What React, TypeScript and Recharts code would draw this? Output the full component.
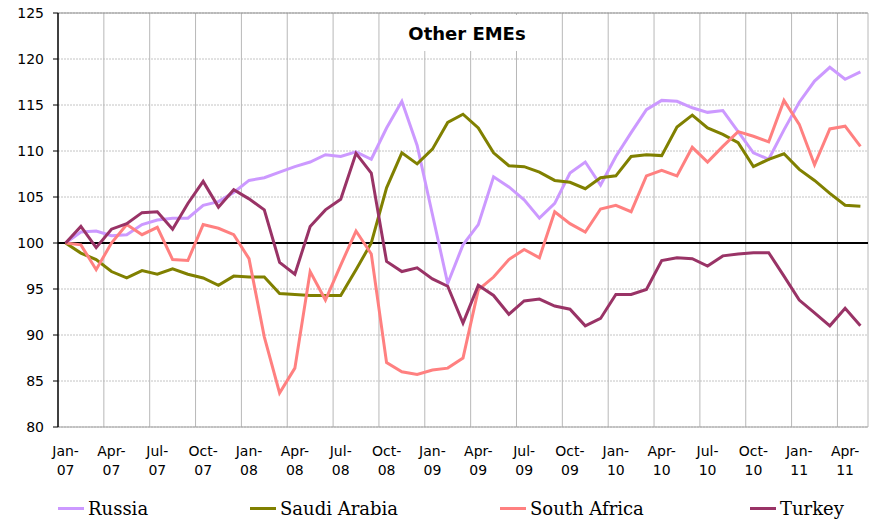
import React from "react";
import {
  LineChart, Line, XAxis, YAxis, CartesianGrid, ReferenceLine, Legend,
} from "recharts";

const MONTHS = [
  "Jan-07", "Feb-07", "Mar-07", "Apr-07", "May-07", "Jun-07", "Jul-07", "Aug-07", "Sep-07", "Oct-07", "Nov-07", "Dec-07",
  "Jan-08", "Feb-08", "Mar-08", "Apr-08", "May-08", "Jun-08", "Jul-08", "Aug-08", "Sep-08", "Oct-08", "Nov-08", "Dec-08",
  "Jan-09", "Feb-09", "Mar-09", "Apr-09", "May-09", "Jun-09", "Jul-09", "Aug-09", "Sep-09", "Oct-09", "Nov-09", "Dec-09",
  "Jan-10", "Feb-10", "Mar-10", "Apr-10", "May-10", "Jun-10", "Jul-10", "Aug-10", "Sep-10", "Oct-10", "Nov-10", "Dec-10",
  "Jan-11", "Feb-11", "Mar-11", "Apr-11", "May-11",
];

const RUSSIA = [
  100, 101.2, 101.3, 100.8, 100.9, 102.0, 102.5, 102.7, 102.7, 104.1, 104.5, 105.5,
  106.8, 107.1, 107.7, 108.3, 108.8, 109.6, 109.4, 109.9, 109.1, 112.5, 115.4, 110.6,
  103.1, 95.6, 99.8, 102.0, 107.2, 106.1, 104.7, 102.7, 104.3, 107.6, 108.8, 106.3,
  109.4, 112.0, 114.5, 115.5, 115.4, 114.7, 114.2, 114.4, 112.1, 109.8, 109.1, 112.3,
  115.3, 117.6, 119.1, 117.8, 118.6,
];

const SAUDI_ARABIA = [
  100, 98.9, 98.2, 96.9, 96.2, 97.0, 96.6, 97.2, 96.6, 96.2, 95.4, 96.4,
  96.3, 96.3, 94.5, 94.4, 94.3, 94.3, 94.3, 97.1, 100.0, 106.0, 109.8, 108.6,
  110.2, 113.1, 114.0, 112.5, 109.8, 108.4, 108.3, 107.7, 106.8, 106.6, 105.9, 107.1,
  107.3, 109.4, 109.6, 109.5, 112.6, 113.9, 112.5, 111.8, 110.9, 108.3, 109.1, 109.7,
  108.0, 106.8, 105.4, 104.1, 104.0,
];

const SOUTH_AFRICA = [
  100, 99.8, 97.1, 100.0, 102.0, 100.9, 101.7, 98.2, 98.1, 102.0, 101.6, 100.9,
  98.3, 89.8, 83.7, 86.4, 96.9, 93.8, 97.6, 101.3, 98.8, 87.0, 86.0, 85.7,
  86.2, 86.4, 87.5, 94.9, 96.3, 98.2, 99.3, 98.4, 103.4, 102.1, 101.2, 103.7,
  104.1, 103.4, 107.3, 107.9, 107.3, 110.4, 108.8, 110.5, 112.1, 111.6, 111.0, 115.5,
  112.9, 108.5, 112.4, 112.7, 110.5,
];

const TURKEY = [
  100, 101.8, 99.5, 101.5, 102.1, 103.3, 103.4, 101.5, 104.3, 106.7, 103.9, 105.8,
  104.8, 103.6, 97.9, 96.6, 101.8, 103.6, 104.75, 109.75, 107.6, 98.0, 96.9, 97.3,
  96.1, 95.3, 91.3, 95.4, 94.3, 92.25, 93.7, 93.9, 93.15, 92.8, 91.0, 91.8,
  94.4, 94.4, 94.95, 98.1, 98.4, 98.3, 97.5, 98.6, 98.8, 98.95, 98.95, 96.4,
  93.8, 92.4, 91.0, 92.9, 91.0,
];

const Y_TICKS = [80, 85, 90, 95, 100, 105, 110, 115, 120, 125];

const SERIES = [
  { key: "russia", name: "Russia", color: "#CC99FF", values: RUSSIA },
  { key: "saudi", name: "Saudi Arabia", color: "#808000", values: SAUDI_ARABIA },
  { key: "southAfrica", name: "South Africa", color: "#FF8080", values: SOUTH_AFRICA },
  { key: "turkey", name: "Turkey", color: "#993366", values: TURKEY },
];

const data = MONTHS.map((m, i) => {
  const row: any = { month: m };
  SERIES.forEach((s) => { row[s.key] = s.values[i]; });
  return row;
});

const AXIS_FONT = "'DejaVu Sans', Arial, sans-serif";

const MonthTick = (props: any) => {
  const { x, y, payload } = props;
  const [mon, yr] = String(payload.value).split("-");
  return (
    <text x={x} y={y} textAnchor="middle" fontFamily={AXIS_FONT} fontSize={14} fill="#000">
      <tspan x={x} dy={23}>{mon}-</tspan>
      <tspan x={x} dy={19}>{yr}</tspan>
    </text>
  );
};

// legend items sit at fixed slots like the original
const LEGEND_LEFT = [58, 250, 500, 750];

const LegendContent = () => (
  <div style={{ position: "relative", width: 877, height: 28 }}>
    {SERIES.map((s, i) => (
      <div
        key={s.key}
        style={{
          position: "absolute", left: LEGEND_LEFT[i], top: 2, height: 28,
          display: "flex", alignItems: "center",
          fontFamily: "'DejaVu Serif', 'Liberation Serif', serif", fontSize: 18, color: "#000",
        }}
      >
        <span style={{ display: "inline-block", width: 26, height: 3, background: s.color, marginRight: 4 }} />
        {s.name}
      </div>
    ))}
  </div>
);

const verticalLines = ({ offset }: any) => {
  const step = offset.width / MONTHS.length;
  const xs: number[] = [];
  for (let k = 3; k < MONTHS.length; k += 3) xs.push(offset.left + k * step);
  xs.push(offset.left + offset.width);
  return xs;
};

export default function App() {
  return (
    <div style={{ position: "relative", width: 877, height: 520, background: "#fff" }}>
      <style>{`body{margin:0}`}</style>
      <LineChart width={877} height={520} data={data} margin={{ top: 13, right: 9, bottom: 0, left: 0 }}>
        <CartesianGrid vertical={false} stroke="#c4c4c4" strokeDasharray="2 1" />
        <CartesianGrid horizontal={false} stroke="#b8b8b8" verticalCoordinatesGenerator={verticalLines} />
        <XAxis
          dataKey="month"
          interval={2}
          tick={<MonthTick />}
          tickLine={false}
          tickSize={0}
          tickMargin={6}
          height={65}
          padding={{ left: 7.6, right: 7.6 }}
          axisLine={{ stroke: "#a0a0a0", strokeWidth: 1 }}
        />
        <YAxis
          domain={[80, 125]}
          ticks={Y_TICKS}
          width={58}
          tickSize={5}
          tickMargin={9}
          axisLine={{ stroke: "#000", strokeWidth: 1.5 }}
          tickLine={{ stroke: "#000" }}
          tick={{ fontFamily: AXIS_FONT, fontSize: 14, fill: "#000" }}
        />
        <ReferenceLine y={125} stroke="#909090" strokeWidth={1} />
        <ReferenceLine y={100} stroke="#000" strokeWidth={2} />
        {SERIES.map((s) => (
          <Line
            key={s.key}
            type="linear"
            dataKey={s.key}
            name={s.name}
            stroke={s.color}
            strokeWidth={3}
            dot={false}
            isAnimationActive={false}
          />
        ))}
        <Legend
          verticalAlign="bottom"
          content={<LegendContent />}
          wrapperStyle={{ left: 0, bottom: 0, width: 877, height: 28 }}
        />
      </LineChart>
      <div
        style={{
          position: "absolute", left: 405, top: 15, width: 124, height: 36,
          background: "#fff", display: "flex", alignItems: "center", justifyContent: "center",
          fontFamily: AXIS_FONT, fontWeight: "bold", fontSize: 18, color: "#000",
        }}
      >
        Other EMEs
      </div>
    </div>
  );
}
